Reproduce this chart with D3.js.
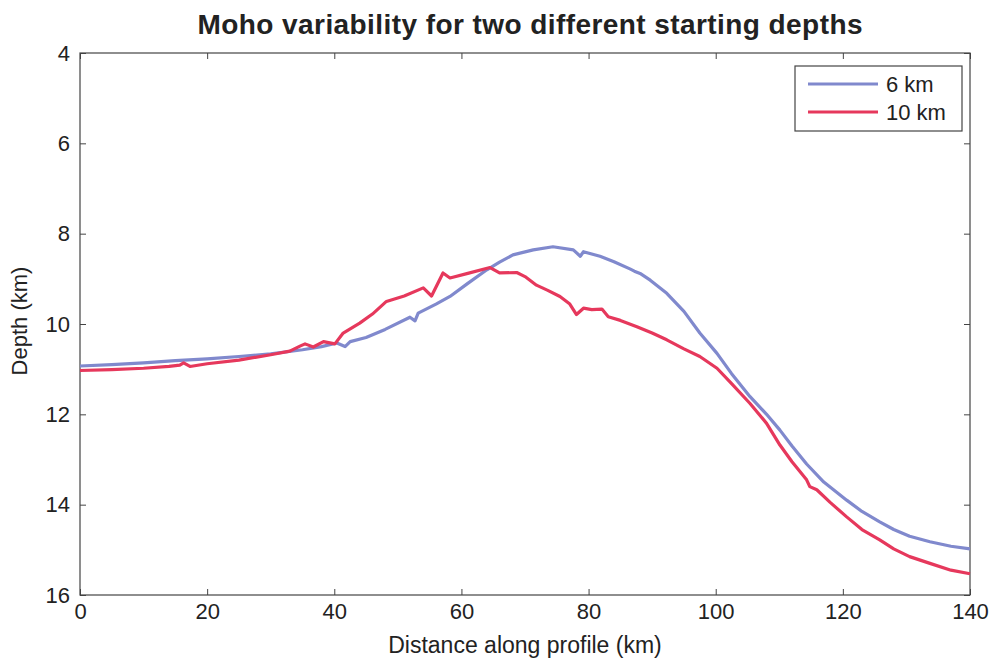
<!DOCTYPE html>
<html>
<head>
<meta charset="utf-8">
<script src="https://cdn.jsdelivr.net/npm/d3@7"></script>
<style>
  body { margin: 0; background: #fff; }
  svg { font-family: "Liberation Sans", Arial, sans-serif; }
</style>
</head>
<body>
<svg id="chart"></svg>
<script>
// Moho depth along profile, two starting depths
const distance6 = [0, 5, 10, 15, 20, 25, 30, 35, 38, 40.4, 41.7, 42.5, 45, 48, 51.9, 52.7, 53.2, 56, 58.2, 61, 64, 66, 68.1, 71.3, 74.4, 77.6, 78.7, 79.2, 81.8, 84, 86.5, 87.2, 88.1, 89.7, 92.3, 95, 97.5, 100.2, 102.5, 105.4, 108, 110.1, 112, 114.3, 117, 120.6, 123, 125.8, 128, 130.5, 133.7, 137, 140];
const depth6 = [10.93, 10.9, 10.86, 10.81, 10.77, 10.72, 10.66, 10.57, 10.5, 10.42, 10.5, 10.39, 10.3, 10.12, 9.85, 9.93, 9.76, 9.56, 9.39, 9.1, 8.8, 8.63, 8.47, 8.36, 8.29, 8.36, 8.5, 8.4, 8.5, 8.62, 8.78, 8.83, 8.88, 9.03, 9.32, 9.72, 10.2, 10.65, 11.1, 11.61, 12.0, 12.35, 12.7, 13.1, 13.5, 13.9, 14.15, 14.38, 14.55, 14.7, 14.82, 14.92, 14.98];

const distance10 = [0, 5, 10, 14, 15.7, 16.3, 17.3, 20, 25, 30, 33, 34.6, 35.4, 36.7, 38.3, 40.1, 41.4, 44, 46, 48.2, 51, 54, 55.3, 57.1, 58.2, 61, 64.5, 66, 68.7, 70, 71.8, 73.5, 75.5, 77, 78.1, 79.2, 80.5, 82.1, 83.1, 85, 87.6, 90, 92.3, 95, 97.5, 100.2, 102.5, 105.4, 108, 110.1, 112, 114.3, 114.8, 115.9, 118, 120.6, 123, 125.8, 128, 130.5, 133.7, 137, 140];
const depth10 = [11.03, 11.01, 10.98, 10.94, 10.91, 10.86, 10.94, 10.88, 10.8, 10.68, 10.6, 10.49, 10.44, 10.51, 10.39, 10.44, 10.2, 9.98, 9.78, 9.5, 9.38, 9.2, 9.38, 8.87, 8.98, 8.88, 8.75, 8.87, 8.86, 8.95, 9.14, 9.25, 9.39, 9.55, 9.79, 9.65, 9.68, 9.67, 9.84, 9.92, 10.06, 10.2, 10.35, 10.55, 10.72, 10.98, 11.32, 11.76, 12.2, 12.68, 13.05, 13.45, 13.6, 13.67, 13.95, 14.27, 14.55, 14.78, 14.98, 15.15, 15.3, 15.45, 15.53];

const xTicks = [0, 20, 40, 60, 80, 100, 120, 140];
const yTicks = [4, 6, 8, 10, 12, 14, 16];

const seriesNames = ['6 km', '10 km'];
const seriesColors = ['#8089cd', '#e6385c'];

const W = 994, H = 660;
const margin = { top: 53, right: 24, bottom: 65, left: 80 };
const width = W - margin.left - margin.right;
const height = H - margin.top - margin.bottom;

const svg = d3.select('#chart').attr('width', W).attr('height', H);

const x = d3.scaleLinear().domain([0, 140]).range([0, width]);
const y = d3.scaleLinear().domain([4, 16]).range([0, height]);

const g = svg.append('g').attr('transform', `translate(${margin.left},${margin.top})`);

// Title
svg.append('text')
  .attr('x', 530).attr('y', 34)
  .attr('text-anchor', 'middle')
  .attr('textLength', 665).attr('lengthAdjust', 'spacing')
  .style('font-size', '28px').style('font-weight', 'bold').attr('fill', '#222')
  .text('Moho variability for two different starting depths');

// axes (ticks inside, mirrored on top/right)
const axisColor = '#444';
const styleAxis = (sel) => {
  sel.select('.domain').remove();
  sel.selectAll('.tick line').attr('stroke', axisColor);
  sel.selectAll('.tick text').attr('fill', '#222').style('font-size', '22px')
    .style('font-family', '"Liberation Sans", Arial, sans-serif');
};

const xAxis = g.append('g').attr('transform', `translate(0,${height})`)
  .call(d3.axisBottom(x).tickValues(xTicks).tickSize(-6).tickPadding(11));
styleAxis(xAxis);
xAxis.selectAll('.tick text').attr('dy', '0.6em');

const xAxisTop = g.append('g')
  .call(d3.axisTop(x).tickValues(xTicks).tickSize(-6).tickFormat(''));
styleAxis(xAxisTop);

const yAxis = g.append('g')
  .call(d3.axisLeft(y).tickValues(yTicks).tickSize(-6).tickPadding(10));
styleAxis(yAxis);

const yAxisRight = g.append('g').attr('transform', `translate(${width},0)`)
  .call(d3.axisRight(y).tickValues(yTicks).tickSize(-6).tickFormat(''));
styleAxis(yAxisRight);

// box
g.append('rect')
  .attr('width', width).attr('height', height)
  .attr('fill', 'none').attr('stroke', axisColor).attr('stroke-width', 1.2);

// axis labels
svg.append('text')
  .attr('x', 525).attr('y', 653)
  .attr('text-anchor', 'middle').style('font-size', '23px').attr('fill', '#222')
  .text('Distance along profile (km)');

svg.append('text')
  .attr('transform', `translate(27,321) rotate(-90)`)
  .attr('text-anchor', 'middle').style('font-size', '22px').attr('fill', '#222')
  .text('Depth (km)');

// lines
const line = d3.line().x(d => x(d[0])).y(d => y(d[1]));
const series = [
  d3.zip(distance6, depth6),
  d3.zip(distance10, depth10)
];

g.selectAll('.series')
  .data(series)
  .enter()
  .append('path')
  .attr('class', 'series')
  .attr('d', line)
  .attr('fill', 'none')
  .attr('stroke', (d, i) => seriesColors[i])
  .attr('stroke-width', 3.2)
  .attr('stroke-linejoin', 'round');

// legend
const legend = svg.append('g').attr('transform', 'translate(795,66)');
legend.append('rect')
  .attr('width', 167).attr('height', 65)
  .attr('fill', '#fff').attr('stroke', axisColor).attr('stroke-width', 1.2);

seriesNames.forEach((name, i) => {
  const ly = 18 + i * 28;
  legend.append('line')
    .attr('x1', 13).attr('x2', 83).attr('y1', ly).attr('y2', ly)
    .attr('stroke', seriesColors[i]).attr('stroke-width', 3.2);
  legend.append('text')
    .attr('x', 91).attr('y', ly).attr('dy', '0.35em')
    .style('font-size', '22px').attr('fill', '#222')
    .text(name);
});
</script>
</body>
</html>
